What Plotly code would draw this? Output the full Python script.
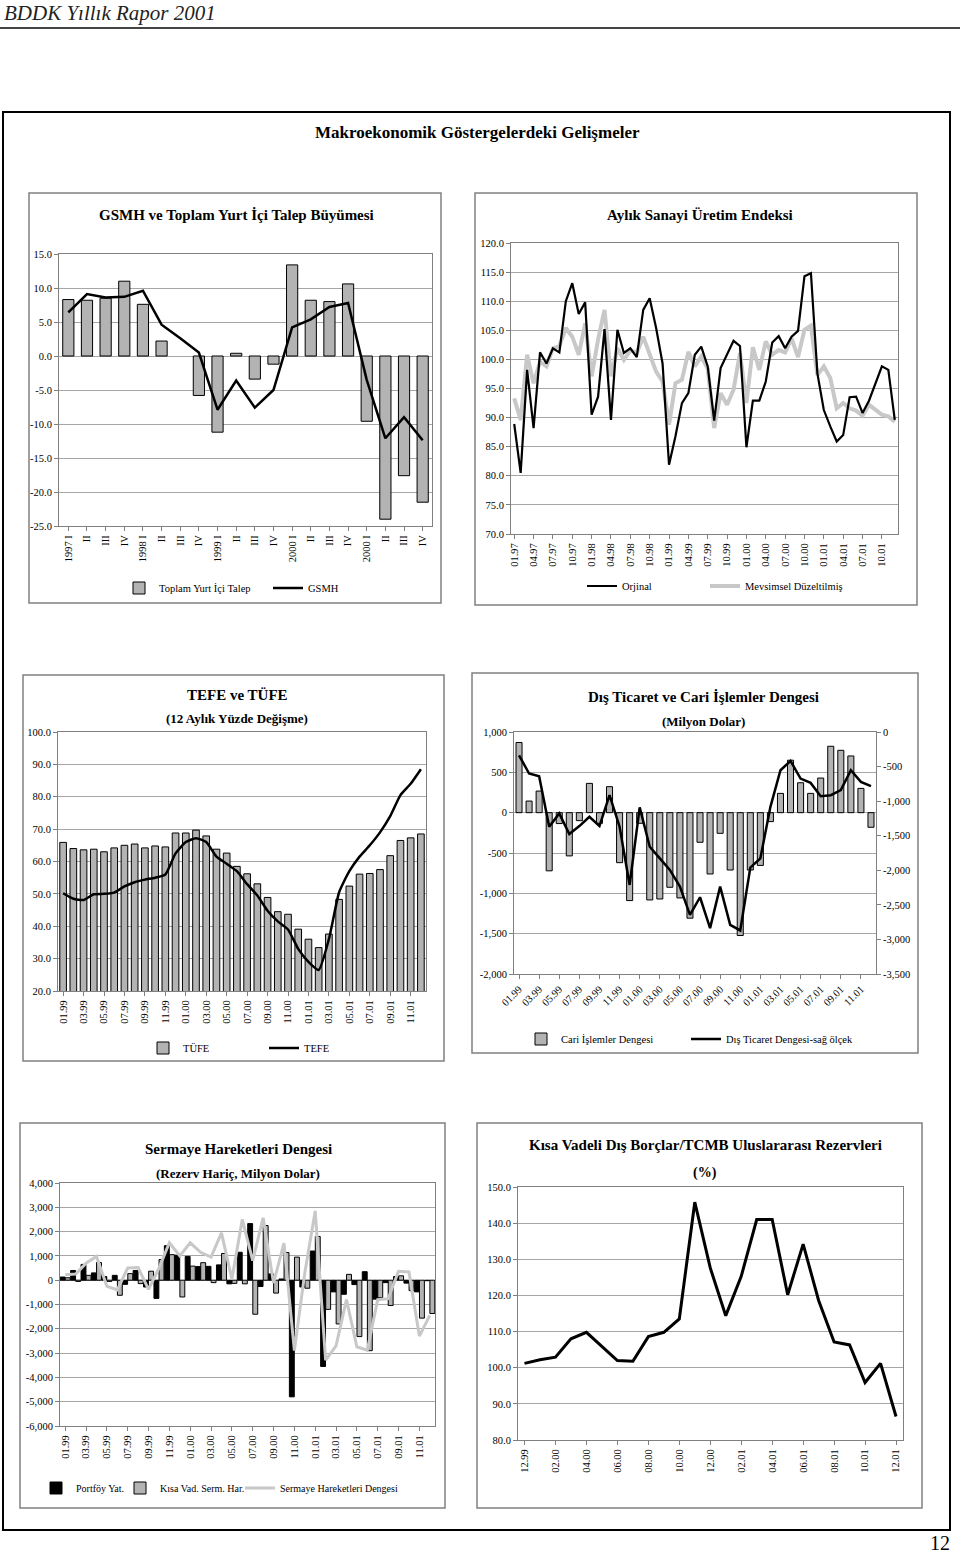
import plotly.graph_objects as go

W, H = 960, 1557
FONT = "Liberation Serif"
GRID = "#a6a6a6"
FRAME = "#808080"
BARGRAY = "#b3b3b3"
LIGHT = "#c8c8c8"

# ---------------- DATA ----------------
# 1) GSMH ve Toplam Yurt İçi Talep Büyümesi (quarterly)
gsmh_cats = ["1997 I", "II", "III", "IV", "1998 I", "II", "III", "IV",
             "1999 I", "II", "III", "IV", "2000 I", "II", "III", "IV",
             "2000 I", "II", "III", "IV"]
talep = [8.3, 8.2, 8.5, 11.0, 7.6, 2.2, None, -5.8, -11.2, 0.4, -3.4, -1.2,
         13.4, 8.2, 8.0, 10.6, -9.6, -24.0, -17.6, -21.5]
gsmh = [6.4, 9.1, 8.6, 8.7, 9.6, 4.6, 2.6, 0.5, -7.9, -3.6, -7.6, -5.0,
        4.2, 5.4, 7.2, 7.8, -3.5, -12.1, -9.0, -12.4]

# 2) Aylık Sanayi Üretim Endeksi (01.97 - 12.01)
sanayi_months = ["%02d.%02d" % (m, y) for y in (97, 98, 99, 0, 1) for m in range(1, 13)]
sanayi_orj = [88.9, 80.5, 98.2, 88.2, 101.2, 99.3, 101.9, 101.2, 110.0, 113.1, 107.8, 109.8,
              90.5, 93.6, 105.2, 89.6, 105.1, 101.1, 101.9, 100.4, 108.5, 110.5, 105.4, 99.3,
              81.9, 86.8, 92.5, 94.2, 100.8, 102.2, 98.8, 89.5, 98.5, 100.8, 103.2, 102.3,
              84.9, 92.9, 92.9, 96.2, 102.9, 104.0, 101.9, 103.9, 104.9, 114.3, 114.8, 97.6,
              91.3, 88.5, 85.9, 87.0, 93.5, 93.6, 90.8, 92.9, 95.9, 98.8, 98.2, 89.6]
sanayi_md = [93.3, 89.6, 100.8, 95.9, 99.6, 98.8, 101.9, 102.3, 105.4, 103.9, 100.8, 106.2,
             97.1, 103.4, 108.5, 97.1, 101.9, 99.9, 101.6, 101.1, 103.9, 101.1, 97.9, 96.2,
             88.8, 95.9, 96.5, 101.3, 98.8, 100.5, 98.4, 88.2, 94.2, 92.2, 94.8, 101.1,
             92.5, 102.1, 98.2, 103.1, 100.8, 101.6, 101.2, 103.6, 100.4, 105.1, 105.8, 97.3,
             98.8, 96.8, 91.6, 92.5, 91.6, 91.2, 90.3, 92.2, 91.3, 90.5, 90.2, 89.3]

# 3-5) monthly 01.99 - 12.01
months_99_01 = ["%02d.%02d" % (m, y) for y in (99, 0, 1) for m in range(1, 13)]
tufe = [65.9, 64.0, 63.6, 63.8, 63.0, 64.2, 65.0, 65.4, 64.2, 64.8, 64.5, 68.8,
        68.8, 69.7, 67.9, 63.8, 62.6, 58.5, 56.2, 53.1, 48.9, 44.5, 43.7, 39.1,
        36.0, 33.4, 37.6, 48.3, 52.4, 56.1, 56.3, 57.5, 61.8, 66.5, 67.3, 68.5]
tefe = [50.2, 48.5, 48.1, 49.9, 50.0, 50.4, 52.3, 53.6, 54.4, 55.0, 56.0, 62.5,
        66.0, 67.2, 66.0, 61.5, 59.3, 57.0, 53.0, 49.5, 44.8, 41.5, 39.0, 33.0,
        29.0, 26.5, 36.0, 50.5, 57.0, 61.5, 65.0, 69.0, 74.0, 80.5, 84.0, 88.5]

cari = [870, 144, 268, -721, -135, -536, -99, 363, -132, 322, -620, -1090,
        -132, -1082, -1070, -925, -1057, -1308, -367, -760, -256, -711, -1523, -711,
        -654, -111, 239, 650, 371, 239, 429, 823, 773, 703, 301, -181]
dis_ticaret = [-337, -601, -640, -1370, -1178, -1476, -1361, -1226, -1361, -914, -1370, -2212,
               -1091, -1659, -1827, -1995, -2236, -2644, -2390, -2837, -2236, -2789, -2870, -1962,
               -1827, -1082, -553, -418, -673, -736, -928, -914, -841, -553, -721, -784]

portfoy = [130, 400, 650, 300, 150, 200, -170, 400, -280, -750, 1420, 1030,
           980, 560, 570, 630, -150, 1150, 2330, -260, 260, 50, -4800, -280,
           1200, -3550, -480, -580, -180, 350, -780, -100, 150, -120, -480, -20]
kisa_vad = [100, -50, 200, 730, -50, -620, 270, -140, 370, 850, 1050, -690,
            580, 720, -100, 1100, -130, -150, -1400, 2250, -530, 1140, 950, -330,
            1800, -1200, -1800, 240, -2320, -2900, -720, -1040, 180, -430, -1560, -1370]
sermaye = [220, 250, 700, 980, -250, -400, 500, 520, -380, 500, 1540, 1000,
           1540, 1150, 950, 1950, 50, 2500, 810, 2570, -120, 1525, -2900, 300,
           2850, -3290, -2700, -800, -2740, -2880, -800, -760, 370, 340, -2300, -1450]

# 6) Kısa Vadeli Dış Borçlar / TCMB Rezervleri (12.99 - 12.01)
kv_months = ["12.99"] + ["%02d.%02d" % (m, y) for y in (0, 1) for m in range(1, 13)]
kv_oran = [101.2, 102.2, 102.9, 108.0, 109.8, 105.9, 102.0, 101.8, 108.6, 109.8, 113.5, 145.8,
           127.6, 114.4, 125.3, 141.0, 141.0, 120.2, 134.2, 118.6, 107.1, 106.3, 95.9, 101.2, 86.5]

# ---------------- HELPERS ----------------
def dx(a, b):
    return [a / W, b / W]

def dy(top, bottom):
    return [1 - bottom / H, 1 - top / H]

def fmt1(v):
    return "%.1f" % v

def fmtc(v):
    return "{:,}".format(int(v))

tickfont = dict(family=FONT, size=10.5, color="black")

def yaxis(domain, anchor, rng, step, fmt):
    vals = []
    v = rng[0]
    while v <= rng[1] + 1e-9:
        vals.append(v)
        v += step
    return dict(domain=domain, anchor=anchor, range=rng, tickvals=vals,
                ticktext=[fmt(t) for t in vals], showgrid=True, gridcolor=GRID,
                gridwidth=1, zeroline=False, showline=True, linecolor=FRAME,
                linewidth=1, mirror=True, ticks="outside", ticklen=4,
                tickcolor=FRAME, tickfont=tickfont, fixedrange=True, automargin=False)

def xaxis(domain, anchor, n, step, labels, angle=-90, rng=None, start=0):
    idx = list(range(start, n, step))
    return dict(domain=domain, anchor=anchor,
                range=rng if rng else [-0.5, n - 0.5],
                tickvals=idx, ticktext=[labels[i] for i in idx], tickangle=angle,
                showgrid=False, zeroline=False, showline=True, linecolor=FRAME,
                linewidth=1, mirror=True, ticks="outside", ticklen=4,
                tickcolor=FRAME, tickfont=tickfont, fixedrange=True, automargin=False)

fig = go.Figure()

# ---------------- CHART 1 ----------------
n1 = len(gsmh_cats)
fig.add_trace(go.Bar(x=list(range(n1)), y=talep, width=0.6, name="Toplam Yurt İçi Talep",
                     marker=dict(color=BARGRAY, line=dict(color="black", width=1)),
                     xaxis="x", yaxis="y", legend="legend"))
fig.add_trace(go.Scatter(x=list(range(n1)), y=gsmh, mode="lines", name="GSMH",
                         line=dict(color="black", width=2.5), xaxis="x", yaxis="y",
                         legend="legend2"))

# ---------------- CHART 2 ----------------
n2 = len(sanayi_months)
fig.add_trace(go.Scatter(x=list(range(n2)), y=sanayi_md, mode="lines",
                         name="Mevsimsel Düzeltilmiş", line=dict(color=LIGHT, width=4),
                         xaxis="x2", yaxis="y2", legend="legend4"))
fig.add_trace(go.Scatter(x=list(range(n2)), y=sanayi_orj, mode="lines", name="Orjinal",
                         line=dict(color="black", width=2.2), xaxis="x2", yaxis="y2",
                         legend="legend3"))

# ---------------- CHART 3 ----------------
n3 = len(months_99_01)
fig.add_trace(go.Bar(x=list(range(n3)), y=tufe, width=0.65, name="TÜFE",
                     marker=dict(color=BARGRAY, line=dict(color="black", width=1)),
                     xaxis="x3", yaxis="y3", legend="legend5"))
fig.add_trace(go.Scatter(x=list(range(n3)), y=tefe, mode="lines", name="TEFE",
                         line=dict(color="black", width=2.5, shape="spline", smoothing=0.5),
                         xaxis="x3", yaxis="y3", legend="legend6"))

# ---------------- CHART 4 ----------------
fig.add_trace(go.Bar(x=list(range(n3)), y=cari, width=0.6, name="Cari İşlemler Dengesi",
                     marker=dict(color=BARGRAY, line=dict(color="black", width=1)),
                     xaxis="x4", yaxis="y4", legend="legend7"))
fig.add_trace(go.Scatter(x=list(range(n3)), y=dis_ticaret, mode="lines",
                         name="Dış Ticaret Dengesi-sağ ölçek",
                         line=dict(color="black", width=2.5), xaxis="x4", yaxis="y7",
                         legend="legend8"))

# ---------------- CHART 5 ----------------
fig.add_trace(go.Bar(x=list(range(n3)), y=portfoy, width=0.47, offset=-0.48,
                     name="Portföy Yat.",
                     marker=dict(color="black", line=dict(color="black", width=1)),
                     xaxis="x5", yaxis="y5", legend="legend9"))
fig.add_trace(go.Bar(x=list(range(n3)), y=kisa_vad, width=0.47, offset=0.01,
                     name="Kısa Vad. Serm. Har.",
                     marker=dict(color=BARGRAY, line=dict(color="black", width=1)),
                     xaxis="x5", yaxis="y5", legend="legend10"))
fig.add_trace(go.Scatter(x=list(range(n3)), y=sermaye, mode="lines",
                         name="Sermaye Hareketleri Dengesi",
                         line=dict(color=LIGHT, width=3), xaxis="x5", yaxis="y5",
                         legend="legend11"))

# ---------------- CHART 6 ----------------
n6 = len(kv_months)
fig.add_trace(go.Scatter(x=list(range(n6)), y=kv_oran, mode="lines", name="Kısa Vadeli",
                         line=dict(color="black", width=3), xaxis="x6", yaxis="y6",
                         showlegend=False))

# ---------------- AXES ----------------
lay = {}
lay["xaxis"] = xaxis(dx(59, 432), "y", n1, 1, gsmh_cats)
lay["yaxis"] = yaxis(dy(254, 526), "x", [-25, 15], 5, fmt1)

lay["xaxis2"] = xaxis(dx(511, 898), "y2", n2, 3, sanayi_months)
lay["yaxis2"] = yaxis(dy(243, 534), "x2", [70, 120], 5, fmt1)

lay["xaxis3"] = xaxis(dx(58, 426), "y3", n3, 2, months_99_01)
lay["yaxis3"] = yaxis(dy(732, 991), "x3", [20, 100], 10, fmt1)

lay["xaxis4"] = xaxis(dx(514, 876), "y4", n3, 2, months_99_01, angle=-45)
lay["yaxis4"] = yaxis(dy(732, 974), "x4", [-2000, 1000], 500, fmtc)
y7 = yaxis(dy(732, 974), "x4", [-3500, 0], 500, fmtc)
y7.update(dict(overlaying="y4", side="right", showgrid=False, mirror=False))
lay["yaxis7"] = y7

lay["xaxis5"] = xaxis(dx(60, 435), "y5", n3, 2, months_99_01)
lay["yaxis5"] = yaxis(dy(1183, 1426), "x5", [-6000, 4000], 1000, fmtc)

lay["xaxis6"] = xaxis(dx(518, 903), "y6", n6, 2, kv_months, rng=[-0.42, 24.45])
lay["yaxis6"] = yaxis(dy(1187, 1440), "x6", [80, 150], 10, fmt1)

# ---------------- LEGENDS ----------------
def legend_at(xpx, ypx, size=10.5):
    return dict(x=xpx / W, y=1 - ypx / H, xanchor="left", yanchor="middle",
                orientation="h", bgcolor="rgba(0,0,0,0)", borderwidth=0,
                font=dict(family=FONT, size=size, color="black"), itemwidth=30)

lay["legend"] = legend_at(119, 588)
lay["legend2"] = legend_at(268, 588)
lay["legend3"] = legend_at(582, 586)
lay["legend4"] = legend_at(705, 586)
lay["legend5"] = legend_at(143, 1048)
lay["legend6"] = legend_at(264, 1048)
lay["legend7"] = legend_at(521, 1039)
lay["legend8"] = legend_at(686, 1039)
lay["legend9"] = legend_at(36, 1488, 10)
lay["legend10"] = legend_at(120, 1488, 10)
lay["legend11"] = legend_at(240, 1488, 10)

# ---------------- SHAPES ----------------
def box(x0, y0, x1, y1, color=FRAME, width=1.5):
    return dict(type="rect", xref="paper", yref="paper", x0=x0 / W, x1=x1 / W,
                y0=1 - y1 / H, y1=1 - y0 / H, line=dict(color=color, width=width),
                fillcolor="rgba(0,0,0,0)", layer="below")

shapes = [
    dict(type="line", xref="paper", yref="paper", x0=0, x1=1, y0=1 - 28 / H, y1=1 - 28 / H,
         line=dict(color="#444444", width=2)),
    box(3, 112, 950, 1530, color="black", width=2),
    box(29, 193, 441, 603),
    box(475, 193, 917, 605),
    box(23, 675, 444, 1061),
    box(472, 673, 918, 1053),
    box(20, 1123, 445, 1508),
    box(477, 1123, 922, 1508),
]

# ---------------- TEXT ----------------
def text(s, xpx, ypx, size, anchor="center", italic=False, bold=False, color="black"):
    if bold:
        s = "<b>%s</b>" % s
    if italic:
        s = "<i>%s</i>" % s
    return dict(text=s, x=xpx / W, y=1 - ypx / H,
                xref="paper", yref="paper", xanchor=anchor, yanchor="middle",
                showarrow=False, font=dict(family=FONT, size=size, color=color))

annotations = [
    text("BDDK Yıllık Rapor 2001", 2, 13, 21, anchor="left", italic=True, color="#222222"),
    text("Makroekonomik Göstergelerdeki Gelişmeler", 477, 132, 17, bold=True),
    text("GSMH ve Toplam Yurt İçi Talep Büyümesi", 236, 215, 15, bold=True),
    text("Aylık Sanayi Üretim Endeksi", 700, 215, 15, bold=True),
    text("TEFE ve TÜFE", 237, 695, 15, bold=True),
    text("(12 Aylık Yüzde Değişme)", 237, 718, 13, bold=True),
    text("Dış Ticaret ve Cari İşlemler Dengesi", 703, 697, 15, bold=True),
    text("(Milyon Dolar)", 703, 722, 13, bold=True),
    text("Sermaye Hareketleri Dengesi", 238, 1149, 15, bold=True),
    text("(Rezerv Hariç, Milyon Dolar)", 238, 1173, 13, bold=True),
    text("Kısa Vadeli Dış Borçlar/TCMB Uluslararası Rezervleri", 705, 1145, 15, bold=True),
    text("(%)", 705, 1173, 14, bold=True),
    text("12", 940, 1543, 20),
]

fig.update_layout(width=W, height=H,
                  margin=dict(l=0, r=0, t=0, b=0, pad=0, autoexpand=False),
                  paper_bgcolor="white", plot_bgcolor="white", barmode="group",
                  font=dict(family=FONT, color="black"), shapes=shapes,
                  annotations=annotations, **lay)

fig.write_html("out.html",
               config={"displayModeBar": False},
               post_script="document.body.style.margin='0px';"
                           "document.body.style.padding='0px';"
                           "document.body.style.overflow='hidden';")
